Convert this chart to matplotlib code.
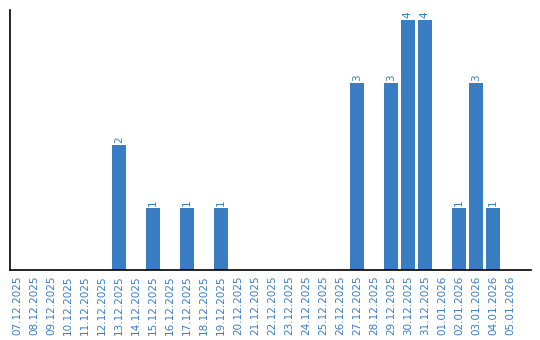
import matplotlib.pyplot as plt

dates = ["07.12.2025", "08.12.2025", "09.12.2025", "10.12.2025", "11.12.2025",
         "12.12.2025", "13.12.2025", "14.12.2025", "15.12.2025", "16.12.2025",
         "17.12.2025", "18.12.2025", "19.12.2025", "20.12.2025", "21.12.2025",
         "22.12.2025", "23.12.2025", "24.12.2025", "25.12.2025", "26.12.2025",
         "27.12.2025", "28.12.2025", "29.12.2025", "30.12.2025", "31.12.2025",
         "01.01.2026", "02.01.2026", "03.01.2026", "04.01.2026", "05.01.2026"]
counts = [0, 0, 0, 0, 0, 0, 2, 0, 1, 0, 1, 0, 1, 0, 0,
          0, 0, 0, 0, 0, 3, 0, 3, 4, 4, 0, 1, 3, 1, 0]

blue = "#3b7dc2"

fig = plt.figure(figsize=(5.4, 3.4), dpi=100)
ax = fig.add_axes([10 / 540, 1 - 270 / 340, 521 / 540, 260 / 340])

x = list(range(len(dates)))
ax.bar(x, counts, width=0.82, color=blue)

for i, v in enumerate(counts):
    if v > 0:
        ax.text(i, v + 0.03, str(v), rotation=90, ha="center", va="bottom",
                fontsize=7.5, color=blue)

ax.set_xlim(-0.41, 30.24)
ax.set_ylim(0, 4.16)
ax.set_xticks(x)
ax.set_xticklabels(dates, rotation=90, fontsize=7.5, color=blue)
ax.tick_params(axis="x", length=0, pad=4)
ax.set_yticks([])

for s in ["top", "right"]:
    ax.spines[s].set_visible(False)
ax.spines["left"].set_linewidth(1.2)
ax.spines["bottom"].set_linewidth(1.2)

plt.savefig("out.png", dpi=100)
plt.close()
